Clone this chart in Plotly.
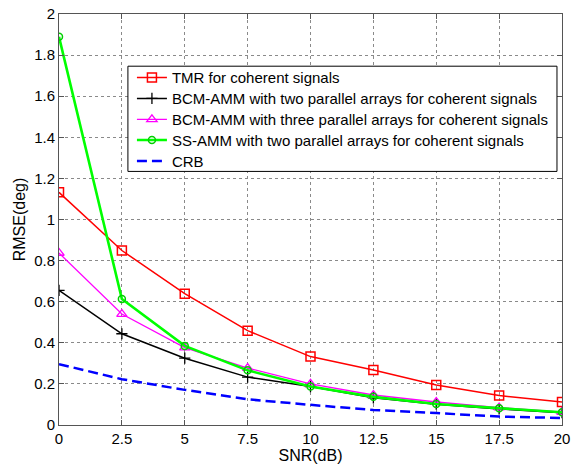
import plotly.graph_objects as go

# SNR sweep (dB)
snr = [0, 2.5, 5, 7.5, 10, 12.5, 15, 17.5, 20]

# RMSE (deg) for each estimator
tmr = [1.132, 0.849, 0.639, 0.459, 0.333, 0.268, 0.195, 0.143, 0.112]
bcm_two = [0.655, 0.444, 0.325, 0.233, 0.187, 0.132, 0.101, 0.078, 0.060]
bcm_three = [0.837, 0.540, 0.377, 0.277, 0.200, 0.146, 0.112, 0.085, 0.063]
ss_two = [1.889, 0.613, 0.385, 0.266, 0.187, 0.137, 0.102, 0.082, 0.062]
crb = [0.296, 0.223, 0.171, 0.125, 0.098, 0.073, 0.058, 0.041, 0.034]

names = [
    "TMR for coherent signals",
    "BCM-AMM with two parallel arrays for coherent signals",
    "BCM-AMM with three parallel arrays for coherent signals",
    "SS-AMM with two parallel arrays for coherent signals",
    "CRB",
]

x_ticks = [0, 2.5, 5, 7.5, 10, 12.5, 15, 17.5, 20]
x_labels = ["0", "2.5", "5", "7.5", "10", "12.5", "15", "17.5", "20"]
y_ticks = [0, 0.2, 0.4, 0.6, 0.8, 1, 1.2, 1.4, 1.6, 1.8, 2]
y_labels = ["0", "0.2", "0.4", "0.6", "0.8", "1", "1.2", "1.4", "1.6", "1.8", "2"]

font_family = "Arial, Liberation Sans, sans-serif"
legend_font = dict(family=font_family, size=15, color="#000000")

# Legend frame (paper coordinates) and one row per series inside it
box_x0, box_x1 = 0.137, 0.990
box_y0, box_y1 = 0.617, 0.873
row_x = 0.145
row_y = [0.845, 0.794, 0.743, 0.693, 0.642]

fig = go.Figure()

fig.add_trace(go.Scatter(
    x=snr, y=tmr, name=names[0], mode="lines+markers", legend="legend",
    line=dict(color="#ff0000", width=1.5),
    marker=dict(symbol="square-open", size=9, color="#ff0000", line=dict(width=1.5)),
))
fig.add_trace(go.Scatter(
    x=snr, y=bcm_two, name=names[1], mode="lines+markers", legend="legend2",
    line=dict(color="#000000", width=1.5),
    marker=dict(symbol="cross-thin-open", size=8, color="#000000",
                line=dict(width=1.3, color="#000000")),
))
fig.add_trace(go.Scatter(
    x=snr, y=bcm_three, name=names[2], mode="lines+markers", legend="legend3",
    line=dict(color="#ff00ff", width=1.3),
    marker=dict(symbol="triangle-up-open", size=9, color="#ff00ff", line=dict(width=1.3)),
))
fig.add_trace(go.Scatter(
    x=snr, y=ss_two, name=names[3], mode="lines+markers", legend="legend4",
    line=dict(color="#00ff00", width=2.6),
    marker=dict(symbol="circle-open", size=7, color="#00d000", line=dict(width=1.5)),
))
fig.add_trace(go.Scatter(
    x=snr, y=crb, name=names[4], mode="lines", legend="legend5",
    line=dict(color="#0000ff", width=2.5, dash="10px,5px"),
))

axis_common = dict(
    showline=True, linecolor="#555555", linewidth=1, mirror="ticks",
    ticks="inside", ticklen=5, tickcolor="#555555",
    showgrid=True, gridcolor="#8a8a8a", griddash="dot", gridwidth=1,
    zeroline=False, automargin=False,
    tickfont=dict(family=font_family, size=15, color="#000000"),
    title_font=dict(family=font_family, size=16, color="#000000"),
)

fig.update_xaxes(
    range=[0, 20], tickvals=x_ticks, ticktext=x_labels,
    title_text="SNR(dB)", title_standoff=0, **axis_common,
)
fig.update_yaxes(
    range=[0, 2], tickvals=y_ticks, ticktext=y_labels,
    title_text="RMSE(deg)", title_standoff=4, **axis_common,
)

# White framed legend panel
fig.add_shape(
    type="rect", xref="paper", yref="paper",
    x0=box_x0, x1=box_x1, y0=box_y0, y1=box_y1,
    line=dict(color="#000000", width=1), fillcolor="#ffffff", layer="above",
)

legend_layouts = {}
for i, yc in enumerate(row_y):
    key = "legend" if i == 0 else f"legend{i + 1}"
    legend_layouts[key] = dict(
        x=row_x, y=yc, xanchor="left", yanchor="middle",
        bgcolor="rgba(0,0,0,0)", borderwidth=0,
        font=legend_font, tracegroupgap=0, itemwidth=30,
    )

fig.update_layout(
    width=571, height=466,
    margin=dict(l=59, r=9, t=14, b=41, autoexpand=False),
    paper_bgcolor="#ffffff", plot_bgcolor="#ffffff",
    font=dict(family=font_family, size=15, color="#000000"),
    showlegend=True,
    **legend_layouts,
)

fig.write_html("out.html")
